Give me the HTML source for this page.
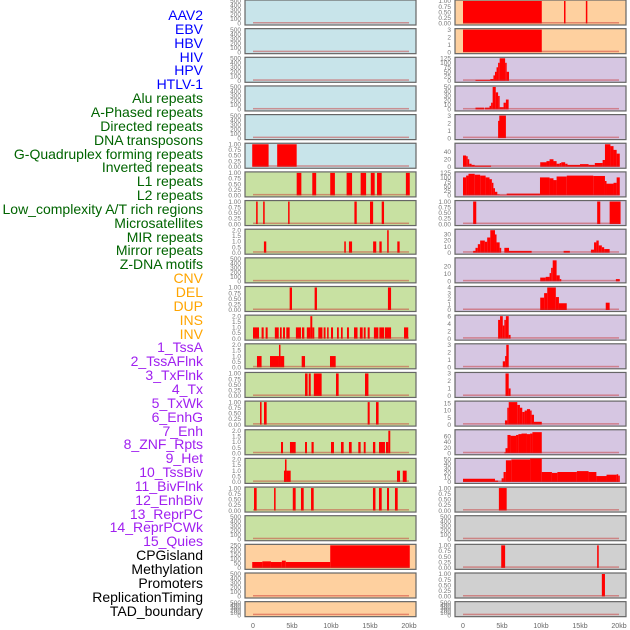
<!DOCTYPE html>
<html><head><meta charset="utf-8"><style>
body{margin:0;background:#fff;width:630px;height:630px;overflow:hidden;font-family:"Liberation Sans",sans-serif}
#labels div{position:absolute;right:427px;font-size:14px;line-height:14px;white-space:nowrap}
</style></head><body>
<div id="labels"></div>
<svg id="chart" width="630" height="630" style="position:absolute;left:0;top:0"></svg>
<script>
const labelNames=["AAV2","EBV","HBV","HIV","HPV","HTLV-1","Alu repeats","A-Phased repeats","Directed repeats","DNA transposons","G-Quadruplex forming repeats","Inverted repeats","L1 repeats","L2 repeats","Low_complexity A/T rich regions","Microsatellites","MIR repeats","Mirror repeats","Z-DNA motifs","CNV","DEL","DUP","INS","INV","1_TssA","2_TssAFlnk","3_TxFlnk","4_Tx","5_TxWk","6_EnhG","7_Enh","8_ZNF_Rpts","9_Het","10_TssBiv","11_BivFlnk","12_EnhBiv","13_ReprPC","14_ReprPCWk","15_Quies","CPGisland","Methylation","Promoters","ReplicationTiming","TAD_boundary"];
const labelGroups=[0,0,0,0,0,0,1,1,1,1,1,1,1,1,1,1,1,1,1,2,2,2,2,2,3,3,3,3,3,3,3,3,3,3,3,3,3,3,3,4,4,4,4,4];
const groupColors=["#0000ff","#006400","#ffa500","#a020f0","#000000"];
const xTicks=[0,5,10,15,20];
const xTickLabels=["0","5kb","10kb","15kb","20kb"];
const T500=["0","100","200","300","400","500"],T1=["0.00","0.25","0.50","0.75","1.00"],T2=["0.0","0.5","1.0","1.5","2.0"];
const leftMax=[500,500,500,500,500,1,1,1,2,500,1,2,2,1,1,2,2,1,500,250,500,500];
const leftTicks=[T500,T500,T500,T500,T500,T1,T1,T1,T2,T500,T1,T2,T2,T1,T1,T2,T2,T1,T500,["0","50","100","150","200","250"],T500,T500];
const rightMax=[1,3,125,50,3,60,125,1,37,30,4,6,3,3,16,80,50,1,500,1,1,500];
const rightTicks=[T1,["0","1","2","3"],["0","25","50","75","100","125"],["0","10","20","30","40","50"],["0","1","2","3"],["0","20","40"],["0","25","50","75","100","125"],T1,["0","10","20","30"],["0","10","20"],["0","1","2","3","4"],["0","2","4","6"],["0","1","2","3"],["0","1","2","3"],["0","5","10","15"],["0","20","40","60"],["0","10","20","30","40","50"],T1,T500,T1,T1,T500];
const leftBg=["#c8e4ea","#c8e4ea","#c8e4ea","#c8e4ea","#c8e4ea","#c8e4ea","#c8e1a2","#c8e1a2","#c8e1a2","#c8e1a2","#c8e1a2","#c8e1a2","#c8e1a2","#c8e1a2","#c8e1a2","#c8e1a2","#c8e1a2","#c8e1a2","#c8e1a2","#fed09f","#fed09f","#fed09f"];
const rightBg=["#fed09f","#fed09f","#d6c6e2","#d6c6e2","#d6c6e2","#d6c6e2","#d6c6e2","#d6c6e2","#d6c6e2","#d6c6e2","#d6c6e2","#d6c6e2","#d6c6e2","#d6c6e2","#d6c6e2","#d6c6e2","#d6c6e2","#d0d0d0","#d0d0d0","#d0d0d0","#d0d0d0","#d0d0d0"];
const leftSeries=[[],[],[],[],[],
[[-0.1,2,1],[3.1,5.6,1]],
[[5.6,6.2,1],[7.6,8.1,1],[9.9,10.5,1],[12,12.7,1],[13.8,14.5,1],[15.1,15.6,1],[15.9,16.5,1],[19.6,20.1,1]],
[[0.4,0.6,1],[1.3,1.5,1],[4.5,4.65,1],[13,13.3,1],[15,15.4,1],[16.5,16.8,1]],
[[1.4,1.7,1],[11.7,11.9,1],[12.3,12.7,1],[15.4,15.8,1],[16.2,16.5,1],[17.2,17.4,2],[18.5,18.8,1]],
[],
[[4.7,5,1],[7.9,8.2,1],[17.3,17.7,1]],
[[0,0.77,1],[1.1,1.37,1],[1.62,1.88,1],[2.8,3.3,1],[3.46,3.68,1],[3.85,4.1,1],[4.27,4.7,1],[5.5,6.15,1],[6.28,6.58,1],[6.9,7.35,1],[7.35,7.6,2],[7.6,7.86,1],[8.37,8.9,1],[9.06,9.3,1],[9.5,9.7,1],[10,10.26,1],[10.77,11,1],[11.28,11.5,1],[12.05,12.3,1],[12.95,13.4,1],[13.7,14.06,1],[14.2,14.44,1],[14.7,14.96,1],[15.5,16.07,1],[16.2,16.8,1],[16.9,17.7,1],[19.36,19.9,1]],
[[0.51,1.1,1],[2.18,3.33,1],[3.33,3.5,2],[3.5,4,1],[6.24,6.67,1],[9.87,10.6,1]],
[[6.67,7,1],[7.14,7.4,1],[7.8,8.8,1],[10.64,10.98,1],[14.36,14.8,1]],
[[0.9,1.1,1],[1.41,1.75,1],[14.7,14.96,1],[15.77,16.1,1]],
[[3.59,3.85,1],[4.74,5.47,1],[6.67,6.92,1],[7.5,7.78,1],[10,10.38,1],[11.28,11.62,1],[12.3,12.65,1],[13.5,13.8,1],[14.2,14.44,1],[15.38,15.68,1],[16.15,16.92,1],[17.05,17.35,1],[17.35,17.6,2]],
[[3.97,4.1,1],[4.1,4.3,2],[4.3,4.83,1],[18.46,18.85,1],[19.2,19.7,1]],
[[0.13,0.47,1],[2.7,2.9,1],[5.1,5.47,1],[6.15,6.5,1],[7.44,7.78,1],[15.38,15.7,1],[16.15,16.5,1],[17.18,17.44,1],[18.2,18.55,1]],
[],
[[-0.1,1.2,65],[1.2,2.3,72],[2.3,3.7,65],[3.7,4.2,80],[4.2,9.9,65],[9.9,20.1,250]],
[],[]];
const rightSeries=[
[[0,10.1,1],[12.95,13.05,1],[15.75,15.85,1]],
[[0,10.1,3]],
[[1.6,3.5,5],[3.5,3.9,10],[3.9,4.1,30],[4.1,4.3,50],[4.3,4.5,75],[4.5,4.7,100],[4.7,5.4,125],[5.4,5.6,100],[5.6,5.9,50]],
[[1.6,2.7,4],[2.8,3.4,4],[3.4,3.6,8],[3.6,3.8,15],[3.8,4.2,50],[4.2,4.5,38],[4.5,4.7,30],[4.7,5.2,5],[5.2,5.5,15],[5.5,5.85,22]],
[[4.5,4.65,2.3],[4.65,5.5,3]],
[[0,0.4,30],[0.4,0.6,28],[0.6,0.8,20],[0.8,1.1,8],[1.1,1.5,5],[1.5,3.6,3],[9.9,10.7,12],[10.7,11.1,15],[11.1,11.6,20],[11.6,12,15],[12,12.4,8],[12.4,12.6,10],[12.6,13.1,12],[13.1,13.4,8],[13.4,15,5],[15,16.1,7],[16.1,16.9,5],[16.9,17.9,10],[17.9,18.2,18],[18.2,18.9,60],[18.9,19.3,55],[19.3,19.7,45],[19.7,20.1,35]],
[[0,0.4,100],[0.4,0.7,110],[0.7,1.5,120],[1.5,2.2,115],[2.2,2.9,110],[2.9,3.4,100],[3.4,3.7,90],[3.7,3.9,70],[3.9,4.1,40],[4.1,4.4,20],[4.4,4.7,5],[4.7,5.6,3],[5.6,9.87,10],[9.87,11.1,100],[11.1,11.6,95],[11.6,12,85],[12,13.3,105],[13.3,16.7,110],[16.7,18.2,108],[18.2,18.4,80],[18.4,19.3,65],[19.3,19.7,70],[19.7,20.1,100]],
[[1.3,1.7,1],[17.2,17.6,1],[18.8,20.2,1]],
[[1.3,1.6,3],[1.6,1.9,8],[1.9,2.2,14],[2.2,2.8,20],[2.8,3.1,18],[3.1,3.5,25],[3.5,4.1,37],[4.1,4.3,30],[4.3,4.7,17],[4.7,4.9,8],[5.3,5.9,8],[5.9,8.8,3],[12.9,13.7,3],[16.4,16.8,5],[16.8,17.1,17],[17.1,17.4,20],[17.4,17.8,12],[17.8,18.1,9],[18.1,18.8,6]],
[[9.9,10.6,5],[10.6,11.1,6],[11.1,11.3,11],[11.3,11.5,18],[11.5,12,28],[12,12.4,8],[12.4,12.6,3],[19.6,20.1,3]],
[[9.9,10.4,2.2],[10.4,10.8,3],[10.8,11.9,4],[11.9,12.3,2.3],[12.3,13.3,1.2],[18.3,18.8,1.3]],
[[4.5,4.75,5],[4.75,5.1,6],[5.1,5.3,3.5],[5.3,5.5,5],[5.5,5.86,6],[5.86,6.1,1]],
[[5.1,5.4,0.8],[5.4,5.55,1.5],[5.55,5.86,3]],
[[5.45,5.86,3],[5.86,6.1,1]],
[[5.38,5.68,3],[5.68,5.86,12],[5.86,6.96,16],[6.96,7.3,14],[7.3,7.6,12],[7.6,7.9,9],[7.9,8.2,10],[8.2,8.6,11],[8.6,8.8,10],[8.8,9.1,7],[9.1,10.1,2]],
[[5.3,5.45,3],[5.45,5.7,18],[5.7,6.1,65],[6.1,6.8,62],[6.8,7.1,65],[7.1,7.5,68],[7.5,8.2,70],[8.2,8.6,68],[8.6,8.9,70],[8.9,10.1,75]],
[[0,4.1,7],[4.1,4.5,3],[4.5,4.95,0.5],[4.95,5.2,8],[5.2,5.5,22],[5.5,6.2,48],[6.2,8.6,50],[8.6,10.1,52],[10.1,11.4,22],[11.4,12.1,20],[12.1,14.6,22],[14.6,16.1,24],[16.1,17.1,22],[17.1,18.4,13],[18.4,19.7,16],[19.7,19.9,17],[19.9,20.1,14]],
[[4.6,5.6,1]],
[],
[[4.9,5.4,1],[17.2,17.4,1]],
[[17.8,18.2,1]],
[]];

const NS="http://www.w3.org/2000/svg";
const svg=document.getElementById('chart');
function mk(tag,attrs,parent){const e=document.createElementNS(NS,tag);for(const k in attrs)e.setAttribute(k,attrs[k]);(parent||svg).appendChild(e);return e;}
const labelsDiv=document.getElementById('labels');
labelNames.forEach((n,i)=>{const d=document.createElement('div');


d.style.top=(8+i*13.85)+'px';d.style.color=groupColors[labelGroups[i]];d.textContent=n;labelsDiv.appendChild(d);});
const cols=[{x0:245,x1:416,zero:253,max:leftMax,ticks:leftTicks,bg:leftBg,series:leftSeries,name:'left'},{x0:455,x1:626,zero:463,max:rightMax,ticks:rightTicks,bg:rightBg,series:rightSeries,name:'right'}];
const kb=7.8;
cols.forEach(c=>{
 const xs=v=>c.zero+v*kb;
 for(let r=0;r<22;r++){
  const top=r*28.65, h=(r==21?15:25);
  const g=mk('g',{});
  
  
  mk('rect',{x:c.x0,y:top,width:c.x1-c.x0,height:h,fill:c.bg[r],stroke:'#666',"stroke-width":1.2},g);
  const yb=top+h-1.5, yt=top+1, ph=yb-yt;
  const ys=v=>yb-v/c.max[r]*ph;
  c.series[r].forEach(s=>{const x=xs(s[0]);let w=xs(s[1])-x;if(w<1.5)w=1.5;
   const b=mk('rect',{x:x,y:ys(s[2]),width:w,height:yb-ys(s[2]),fill:'#ff0000'},g);
   
   });
  mk('rect',{x:xs(0),y:yb-1.5,width:20*kb,height:1.5,fill:'rgba(200,40,40,0.45)'},g);
  const tl=c.ticks[r];const n=tl.length;
  tl.forEach((t,i)=>{const tv=c.max[r]*i/(n-1)*(c.max[r]==60?40/60*(n-1)/2:1);
   let val=c.max[r]*i/(n-1);
   if(c.max[r]==60) val=i*20; if(c.max[r]==37) val=i*10; if(c.max[r]==30) val=i*10; if(c.max[r]==16) val=i*5; if(c.max[r]==80) val=i*20;
   const tx=mk('text',{x:c.x0-4,y:ys(val)+2.2,"font-size":6.5,fill:'#777',"text-anchor":'end'},g);
   
   
   tx.textContent=t;});
 }
 xTicks.forEach((t,i)=>{const tx=mk('text',{x:xs(t),y:628,"font-size":7,fill:'#666',"text-anchor":'middle'});
  
  
  tx.textContent=xTickLabels[i];});
});
</script>
</body></html>
